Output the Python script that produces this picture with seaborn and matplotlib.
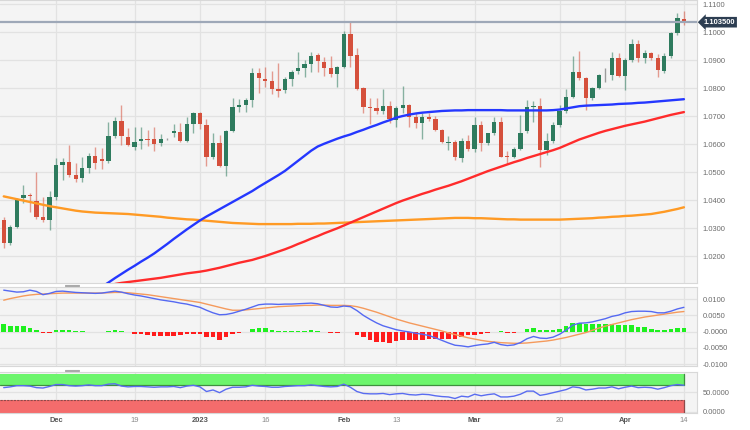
import numpy as np
import pandas as pd
import matplotlib
matplotlib.use("Agg")
import matplotlib.pyplot as plt
import matplotlib.transforms as mtrans
from matplotlib.lines import Line2D
import seaborn as sns

# ---------------- data ----------------
dates = pd.bdate_range("2022-11-21", "2023-04-14")

opens = [1.0329, 1.0246, 1.0305, 1.0407, 1.0419, 1.0398, 1.0338, 1.0329, 1.0412, 1.0526,
         1.0536, 1.0488, 1.0477, 1.0516, 1.0557, 1.0548, 1.0540, 1.0630, 1.0682, 1.0626,
         1.0588, 1.0610, 1.0618, 1.0617, 1.0602, 1.0617, 1.0640, 1.0644, 1.0612, 1.0671,
         1.0710, 1.0668, 1.0555, 1.0605, 1.0523, 1.0648, 1.0733, 1.0739, 1.0757, 1.0855,
         1.0833, 1.0824, 1.0795, 1.0793, 1.0832, 1.0862, 1.0873, 1.0885, 1.0917, 1.0894,
         1.0870, 1.0850, 1.0876, 1.0992, 1.0917, 1.0799, 1.0733, 1.0730, 1.0717, 1.0736,
         1.0686, 1.0728, 1.0740, 1.0695, 1.0676, 1.0698, 1.0688, 1.0650, 1.0604, 1.0607,
         1.0549, 1.0611, 1.0581, 1.0668, 1.0602, 1.0638, 1.0680, 1.0556, 1.0553, 1.0581,
         1.0647, 1.0731, 1.0736, 1.0579, 1.0612, 1.0668, 1.0719, 1.0769, 1.0858, 1.0835,
         1.0763, 1.0799, 1.0845, 1.0846, 1.0906, 1.0843, 1.0900, 1.0956, 1.0908, 1.0924,
         1.0906, 1.0862, 1.0914, 1.0995, 1.1046]
highs = [1.0339, 1.0311, 1.0406, 1.0452, 1.0426, 1.0500, 1.0412, 1.0433, 1.0549, 1.0549,
         1.0596, 1.0533, 1.0552, 1.0569, 1.0590, 1.0585, 1.0680, 1.0698, 1.0739, 1.0656,
         1.0660, 1.0660, 1.0650, 1.0660, 1.0635, 1.0620, 1.0671, 1.0674, 1.0695, 1.0715,
         1.0714, 1.0688, 1.0638, 1.0632, 1.0650, 1.0763, 1.0760, 1.0763, 1.0870, 1.0870,
         1.0874, 1.0862, 1.0890, 1.0838, 1.0864, 1.0930, 1.0900, 1.0930, 1.0926, 1.0912,
         1.0914, 1.0879, 1.1004, 1.1036, 1.0942, 1.0802, 1.0763, 1.0763, 1.0795, 1.0752,
         1.0736, 1.0807, 1.0744, 1.0710, 1.0710, 1.0710, 1.0700, 1.0655, 1.0629, 1.0614,
         1.0620, 1.0633, 1.0695, 1.0682, 1.0641, 1.0697, 1.0695, 1.0576, 1.0590, 1.0704,
         1.0757, 1.0755, 1.0763, 1.0638, 1.0680, 1.0739, 1.0795, 1.0914, 1.0933, 1.0840,
         1.0805, 1.0850, 1.0870, 1.0930, 1.0926, 1.0906, 1.0976, 1.0971, 1.0936, 1.0930,
         1.0921, 1.0925, 1.1000, 1.1069, 1.1076]
lows = [1.0229, 1.0239, 1.0300, 1.0388, 1.0358, 1.0333, 1.0322, 1.0293, 1.0400, 1.0471,
        1.0483, 1.0465, 1.0465, 1.0495, 1.0510, 1.0510, 1.0531, 1.0620, 1.0596, 1.0593,
        1.0579, 1.0581, 1.0593, 1.0576, 1.0593, 1.0614, 1.0626, 1.0608, 1.0608, 1.0640,
        1.0652, 1.0523, 1.0545, 1.0519, 1.0486, 1.0643, 1.0715, 1.0715, 1.0733, 1.0783,
        1.0803, 1.0779, 1.0769, 1.0783, 1.0807, 1.0850, 1.0838, 1.0858, 1.0858, 1.0843,
        1.0840, 1.0805, 1.0870, 1.0876, 1.0793, 1.0710, 1.0671, 1.0707, 1.0707, 1.0676,
        1.0662, 1.0712, 1.0662, 1.0656, 1.0617, 1.0682, 1.0645, 1.0604, 1.0579, 1.0543,
        1.0537, 1.0576, 1.0573, 1.0576, 1.0595, 1.0632, 1.0552, 1.0529, 1.0550, 1.0578,
        1.0638, 1.0680, 1.0519, 1.0561, 1.0605, 1.0660, 1.0710, 1.0763, 1.0829, 1.0721,
        1.0758, 1.0795, 1.0823, 1.0829, 1.0840, 1.0793, 1.0894, 1.0894, 1.0888, 1.0900,
        1.0840, 1.0855, 1.0908, 1.0989, 1.1025]
closes = [1.0246, 1.0305, 1.0402, 1.0417, 1.0413, 1.0338, 1.0329, 1.0410, 1.0526, 1.0536,
          1.0489, 1.0474, 1.0513, 1.0557, 1.0533, 1.0540, 1.0629, 1.0682, 1.0629, 1.0596,
          1.0608, 1.0618, 1.0613, 1.0601, 1.0619, 1.0617, 1.0647, 1.0612, 1.0670, 1.0710,
          1.0670, 1.0555, 1.0605, 1.0523, 1.0648, 1.0733, 1.0739, 1.0757, 1.0855, 1.0835,
          1.0825, 1.0796, 1.0790, 1.0831, 1.0858, 1.0870, 1.0885, 1.0915, 1.0896, 1.0870,
          1.0850, 1.0874, 1.0992, 1.0914, 1.0795, 1.0731, 1.0729, 1.0717, 1.0736, 1.0689,
          1.0728, 1.0740, 1.0695, 1.0676, 1.0698, 1.0689, 1.0650, 1.0608, 1.0606, 1.0552,
          1.0612, 1.0581, 1.0668, 1.0605, 1.0638, 1.0680, 1.0555, 1.0554, 1.0581, 1.0638,
          1.0731, 1.0734, 1.0579, 1.0612, 1.0668, 1.0719, 1.0769, 1.0858, 1.0835, 1.0763,
          1.0799, 1.0846, 1.0845, 1.0906, 1.0843, 1.0900, 1.0956, 1.0908, 1.0924, 1.0908,
          1.0864, 1.0914, 1.0995, 1.1049, 1.1035]

nan = np.nan
sma50 = [nan] * 13 + [
         1.0060, 1.0075, 1.0090, 1.0105, 1.0121, 1.0136, 1.0151,
         1.0165, 1.0180, 1.0194, 1.0209, 1.0226, 1.0243, 1.0261, 1.0278, 1.0295, 1.0311,
         1.0327, 1.0341, 1.0354, 1.0367, 1.0380, 1.0393, 1.0406, 1.0419, 1.0432, 1.0447,
         1.0461, 1.0475, 1.0489, 1.0504, 1.0522, 1.0540, 1.0558, 1.0576, 1.0591, 1.0601,
         1.0610, 1.0619, 1.0627, 1.0634, 1.0643, 1.0651, 1.0660, 1.0668, 1.0677, 1.0685,
         1.0694, 1.0700, 1.0705, 1.0709, 1.0712, 1.0714, 1.0716, 1.0718, 1.0719, 1.0720,
         1.0720, 1.0721, 1.0721, 1.0721, 1.0721, 1.0721, 1.0721, 1.0720, 1.0720, 1.0720,
         1.0720, 1.0720, 1.0720, 1.0720, 1.0721, 1.0723, 1.0727, 1.0731, 1.0735, 1.0737,
         1.0738, 1.0739, 1.0740, 1.0741, 1.0743, 1.0744, 1.0745, 1.0747, 1.0748, 1.0750,
         1.0752, 1.0754, 1.0756, 1.0758, 1.0760]
sma100 = [nan] * 17 + [
          1.0100, 1.0104, 1.0107,
          1.0110, 1.0113, 1.0116, 1.0119, 1.0122, 1.0126, 1.0130, 1.0134, 1.0138, 1.0141,
          1.0144, 1.0148, 1.0153, 1.0158, 1.0164, 1.0170, 1.0176, 1.0181, 1.0186, 1.0193,
          1.0200, 1.0208, 1.0216, 1.0224, 1.0233, 1.0243, 1.0252, 1.0262, 1.0271, 1.0281,
          1.0290, 1.0299, 1.0309, 1.0319, 1.0329, 1.0339, 1.0349, 1.0359, 1.0369, 1.0379,
          1.0389, 1.0398, 1.0406, 1.0414, 1.0422, 1.0429, 1.0437, 1.0444, 1.0451, 1.0459,
          1.0467, 1.0476, 1.0485, 1.0494, 1.0503, 1.0511, 1.0519, 1.0527, 1.0535, 1.0542,
          1.0550, 1.0557, 1.0564, 1.0571, 1.0578, 1.0586, 1.0596, 1.0606, 1.0616, 1.0624,
          1.0632, 1.0640, 1.0647, 1.0653, 1.0659, 1.0665, 1.0670, 1.0675, 1.0680, 1.0686,
          1.0692, 1.0698, 1.0704, 1.0709, 1.0714]
sma200 = [1.0413, 1.0408, 1.0403, 1.0398, 1.0393, 1.0388, 1.0383, 1.0378, 1.0374, 1.0370,
          1.0366, 1.0362, 1.0359, 1.0357, 1.0355, 1.0354, 1.0353, 1.0352, 1.0351, 1.0350,
          1.0348, 1.0346, 1.0344, 1.0342, 1.0340, 1.0337, 1.0335, 1.0333, 1.0331, 1.0330,
          1.0328, 1.0326, 1.0324, 1.0322, 1.0320, 1.0318, 1.0317, 1.0316, 1.0315, 1.0314,
          1.0314, 1.0314, 1.0314, 1.0314, 1.0314, 1.0315, 1.0315, 1.0315, 1.0316, 1.0316,
          1.0317, 1.0318, 1.0319, 1.0320, 1.0321, 1.0322, 1.0323, 1.0324, 1.0325, 1.0326,
          1.0327, 1.0328, 1.0329, 1.0330, 1.0331, 1.0332, 1.0333, 1.0334, 1.0335, 1.0336,
          1.0336, 1.0336, 1.0335, 1.0335, 1.0334, 1.0333, 1.0332, 1.0331, 1.0331, 1.0330,
          1.0330, 1.0330, 1.0330, 1.0330, 1.0330, 1.0330, 1.0331, 1.0332, 1.0333, 1.0334,
          1.0335, 1.0337, 1.0338, 1.0340, 1.0341, 1.0343, 1.0344, 1.0346, 1.0348, 1.0350,
          1.0354, 1.0358, 1.0363, 1.0368, 1.0374]

macd = [0.0128, 0.0125, 0.0122, 0.0123, 0.0128, 0.0124, 0.0114, 0.0118, 0.0124, 0.0125,
        0.0123, 0.0121, 0.0120, 0.0119, 0.0118, 0.0119, 0.0122, 0.0125, 0.0122, 0.0117,
        0.0113, 0.0110, 0.0106, 0.0102, 0.0098, 0.0095, 0.0092, 0.0088, 0.0085, 0.0080,
        0.0075, 0.0066, 0.0058, 0.0052, 0.0053, 0.0057, 0.0063, 0.0069, 0.0076, 0.0083,
        0.0085, 0.0085, 0.0084, 0.0085, 0.0085, 0.0086, 0.0087, 0.0088, 0.0086, 0.0081,
        0.0076, 0.0075, 0.0079, 0.0077, 0.0065, 0.0050, 0.0038, 0.0027, 0.0018, 0.0012,
        0.0006, 0.0002, -0.0001, -0.0005, -0.0008, -0.0012, -0.0019, -0.0027, -0.0035, -0.0042,
        -0.0044, -0.0047, -0.0043, -0.0040, -0.0038, -0.0033, -0.0040, -0.0043, -0.0041, -0.0034,
        -0.0022, -0.0015, -0.0020, -0.0021, -0.0017, -0.0008, 0.0005, 0.0020, 0.0026, 0.0027,
        0.0030, 0.0035, 0.0040, 0.0047, 0.0051, 0.0058, 0.0062, 0.0063, 0.0063, 0.0062,
        0.0058, 0.0058, 0.0063, 0.0070, 0.0075]
signal = [0.0097, 0.0102, 0.0106, 0.0110, 0.0113, 0.0115, 0.0116, 0.0117, 0.0118, 0.0119,
          0.0119, 0.0119, 0.0119, 0.0119, 0.0119, 0.0119, 0.0120, 0.0121, 0.0121, 0.0120,
          0.0118, 0.0116, 0.0114, 0.0111, 0.0108, 0.0105, 0.0102, 0.0099, 0.0096, 0.0093,
          0.0090, 0.0085, 0.0080, 0.0075, 0.0070, 0.0066, 0.0066, 0.0067, 0.0069, 0.0071,
          0.0073, 0.0075, 0.0077, 0.0078, 0.0079, 0.0080, 0.0081, 0.0081, 0.0082, 0.0082,
          0.0081, 0.0081, 0.0081, 0.0080, 0.0077, 0.0072, 0.0066, 0.0060, 0.0053, 0.0046,
          0.0039, 0.0033, 0.0027, 0.0022, 0.0017, 0.0012, 0.0007, 0.0002, -0.0004, -0.0009,
          -0.0014, -0.0019, -0.0023, -0.0027, -0.0030, -0.0032, -0.0034, -0.0035, -0.0036, -0.0036,
          -0.0035, -0.0033, -0.0031, -0.0029, -0.0026, -0.0022, -0.0018, -0.0013, -0.0008, -0.0003,
          0.0004, 0.0011, 0.0017, 0.0022, 0.0027, 0.0032, 0.0037, 0.0041, 0.0045, 0.0048,
          0.0051, 0.0054, 0.0057, 0.0060, 0.0062]
hist = [0.0025, 0.0017, 0.0016, 0.0016, 0.0012, 0.0004, -0.0003, -0.0003, 0.0004, 0.0006,
        0.0004, 0.0001, 0.0001, -0.0001, -0.0002, -0.0002, 0.0001, 0.0004, 0.0003, -0.0001,
        -0.0006, -0.0006, -0.0009, -0.0012, -0.0012, -0.0012, -0.0012, -0.0011, -0.0008, -0.0008,
        -0.0008, -0.0016, -0.0018, -0.0025, -0.0018, -0.0008, -0.0004, -0.0001, 0.0007, 0.0010,
        0.0010, 0.0005, 0.0003, 0.0003, 0.0003, 0.0003, 0.0003, 0.0004, 0.0003, 0.0000,
        -0.0003, -0.0003, 0.0000, -0.0002, -0.0009, -0.0018, -0.0027, -0.0032, -0.0032, -0.0034,
        -0.0029, -0.0027, -0.0027, -0.0027, -0.0025, -0.0024, -0.0022, -0.0022, -0.0022, -0.0022,
        -0.0016, -0.0011, -0.0009, -0.0006, -0.0004, 0.0000, 0.0001, -0.0004, -0.0004, -0.0001,
        0.0009, 0.0012, 0.0004, 0.0004, 0.0006, 0.0009, 0.0016, 0.0026, 0.0026, 0.0024,
        0.0022, 0.0022, 0.0022, 0.0024, 0.0019, 0.0019, 0.0019, 0.0014, 0.0014, 0.0009,
        0.0004, 0.0004, 0.0008, 0.0011, 0.0011]
rsi = [62, 64, 67, 67, 66, 62, 61, 65, 70, 70,
       67, 66, 67, 69, 67, 67, 71, 72, 66, 64,
       65, 65, 64, 63, 64, 64, 65, 62, 66, 68,
       64, 52, 56, 49, 58, 63, 63, 64, 68, 66,
       65, 63, 63, 65, 66, 67, 67, 69, 67, 65,
       64, 65, 71, 63, 52, 47, 46, 46, 47, 44,
       46, 47, 44, 43, 45, 44, 41, 39, 38, 34,
       40, 38, 45, 41, 44, 46, 38, 38, 40, 45,
       53, 53, 42, 45, 49, 53, 57, 64, 62, 56,
       58, 61, 61, 64, 59, 63, 66, 62, 63, 62,
       58, 62, 67, 70, 68]

last_price = 1.1035
last_label = "1.103500"
tick_dates = ["2022-12-01", "2022-12-19", "2023-01-02", "2023-01-16", "2023-02-01",
              "2023-02-13", "2023-03-01", "2023-03-20", "2023-04-03", "2023-04-14"]
tick_labels = ["Dec", "19", "2023", "16", "Feb", "13", "Mar", "20", "Apr", "14"]
bold_labels = {"Dec", "2023", "Feb", "Mar", "Apr"}
price_ticks = [1.02, 1.03, 1.04, 1.05, 1.06, 1.07, 1.08, 1.09, 1.10, 1.11]
macd_ticks = [0.01, 0.005, 0.0, -0.005, -0.01]
macd_tick_labels = ["0.0100", "0.0050", "-0.0000", "-0.0050", "-0.0100"]
rsi_ticks = [0, 50]
rsi_tick_labels = ["0.0000", "50.0000"]

# ---------------- style ----------------
sns.set_theme(style="white")
plt.rcParams["font.family"] = ["Liberation Sans", "DejaVu Sans"]

BG = "#f4f4f4"
GRID = "#e2e2e2"
GREEN = "#2e7b5e"
RED = "#d5503c"
GRAY_TXT = "#6b6b6b"

df = pd.DataFrame({"date": dates, "open": opens, "high": highs, "low": lows,
                   "close": closes, "sma50": sma50, "sma100": sma100, "sma200": sma200,
                   "macd": macd, "signal": signal, "hist": hist, "rsi": rsi})
df["i"] = np.arange(len(df))

W, H = 750.0, 430.0
fig = plt.figure(figsize=(7.5, 4.3), dpi=100)
fig.patch.set_facecolor("white")


def rect(x0, y0, x1, y1):
    return [x0 / W, 1 - y1 / H, (x1 - x0) / W, (y1 - y0) / H]


ax = fig.add_axes(rect(0, 0, 697, 283))
axm = fig.add_axes(rect(0, 287.3, 697, 366), sharex=ax)
axr = fig.add_axes(rect(0, 372, 697, 412.7), sharex=ax)

n = len(df)
x_left = -0.57
x_right = 106.0
tick_pos = [int(np.where(df["date"] == pd.Timestamp(d))[0][0]) for d in tick_dates]

for a in (ax, axm, axr):
    a.set_facecolor(BG)
    a.set_xlim(x_left, x_right)
    a.set_xticks(tick_pos)
    a.grid(True, color=GRID, lw=0.9)
    a.set_axisbelow(True)
    a.yaxis.tick_right()
    a.tick_params(axis="y", length=0, pad=4, labelsize=5.4, labelcolor=GRAY_TXT)
    a.tick_params(axis="x", length=0)
    for side, sp in a.spines.items():
        sp.set_color("#d8d8d8")
        sp.set_linewidth(0.8)
    a.spines["left"].set_visible(False)

# ---------------- main panel ----------------
ax.set_ylim(1.01036, 1.11143)
ax.set_yticks(price_ticks)
ax.set_yticklabels([f"{v:.4f}" for v in price_ticks])
ax.tick_params(axis="x", labelbottom=False)

up = df["close"] > df["open"]
down = df["close"] < df["open"]
body_col = np.where(up, GREEN, np.where(down, RED, "#555555"))
ax.vlines(df["i"], df["low"], df["high"], colors=body_col, lw=1.0, alpha=0.55, zorder=3)
body_bottom = np.minimum(df["open"], df["close"])
body_h = np.maximum(np.abs(df["close"] - df["open"]), 0.00018)
ax.bar(df["i"], body_h, bottom=body_bottom, width=0.66, color=body_col, lw=0, zorder=4)

sns.lineplot(data=df, x="i", y="sma200", ax=ax, color="#ff9a24", lw=1.7, zorder=5)
sns.lineplot(data=df, x="i", y="sma100", ax=ax, color="#ff2b2b", lw=1.7, zorder=5)
sns.lineplot(data=df, x="i", y="sma50", ax=ax, color="#2437ff", lw=1.7, zorder=5)
ax.axhline(last_price, color="#9ea8b8", lw=1.6, zorder=6)
ax.set_xlabel("")
ax.set_ylabel("")

blend = mtrans.blended_transform_factory(ax.transAxes, ax.transData)
ax.text(1.0095, last_price, last_label, transform=blend, ha="left", va="center",
        fontsize=5.4, fontweight="bold", color="white", zorder=10, clip_on=False,
        bbox=dict(boxstyle="larrow,pad=0.24", fc="#2d3e52", ec="none"))

# ---------------- MACD panel ----------------
axm.set_ylim(-0.01061, 0.01368)
axm.set_yticks(macd_ticks)
axm.set_yticklabels(macd_tick_labels)
axm.tick_params(axis="x", labelbottom=False)
hcol = np.where(df["hist"] >= 0, "#1ff01f", "#ff1c1c")
axm.bar(df["i"], df["hist"], width=0.7, color=hcol, lw=0, zorder=3)
sns.lineplot(data=df, x="i", y="signal", ax=axm, color="#f59a5c", lw=1.0, zorder=4)
sns.lineplot(data=df, x="i", y="macd", ax=axm, color="#5569f2", lw=1.0, zorder=5)
axm.set_xlabel("")
axm.set_ylabel("")

# ---------------- RSI panel ----------------
axr.set_ylim(-2.6, 102.3)
axr.set_yticks(rsi_ticks)
axr.set_yticklabels(rsi_tick_labels)
band_x = [x_left, n - 1]
axr.fill_between(band_x, 70, 97, color="#6cf56c", lw=0, zorder=2)
axr.plot(band_x, [70, 70], color="#3f8f3f", lw=0.9, zorder=3)
axr.plot([n - 1, n - 1], [70, 97], color="#3f8f3f", lw=0.9, zorder=3)
axr.fill_between(band_x, -2.6, 31, color="#f46c6c", lw=0, zorder=2)
axr.plot(band_x, [31, 31], color="#8e4a4a", lw=0.8, ls=(0, (2, 1)), zorder=3)
axr.plot([n - 1, n - 1], [-2.6, 31], color="#8e4a4a", lw=0.9, zorder=3)
sns.lineplot(data=df, x="i", y="rsi", ax=axr, color="#5a6cf0", lw=1.0, zorder=4)
axr.set_xlabel("")
axr.set_ylabel("")
axr.set_xticklabels(tick_labels)
axr.tick_params(axis="x", pad=3, labelsize=5.4)
for lab in axr.get_xticklabels():
    if lab.get_text() in bold_labels:
        lab.set_fontweight("bold")
        lab.set_color("#555555")
    else:
        lab.set_color("#8a8a8a")

# drag handles between panels
for yy in (284.6, 369.6):
    for dy in (0.0, 1.6):
        fig.add_artist(Line2D([65 / W, 79 / W], [1 - (yy + dy) / H] * 2,
                              color="#aaaaaa", lw=0.8))

fig.savefig("out.png", dpi=100, facecolor="white")
